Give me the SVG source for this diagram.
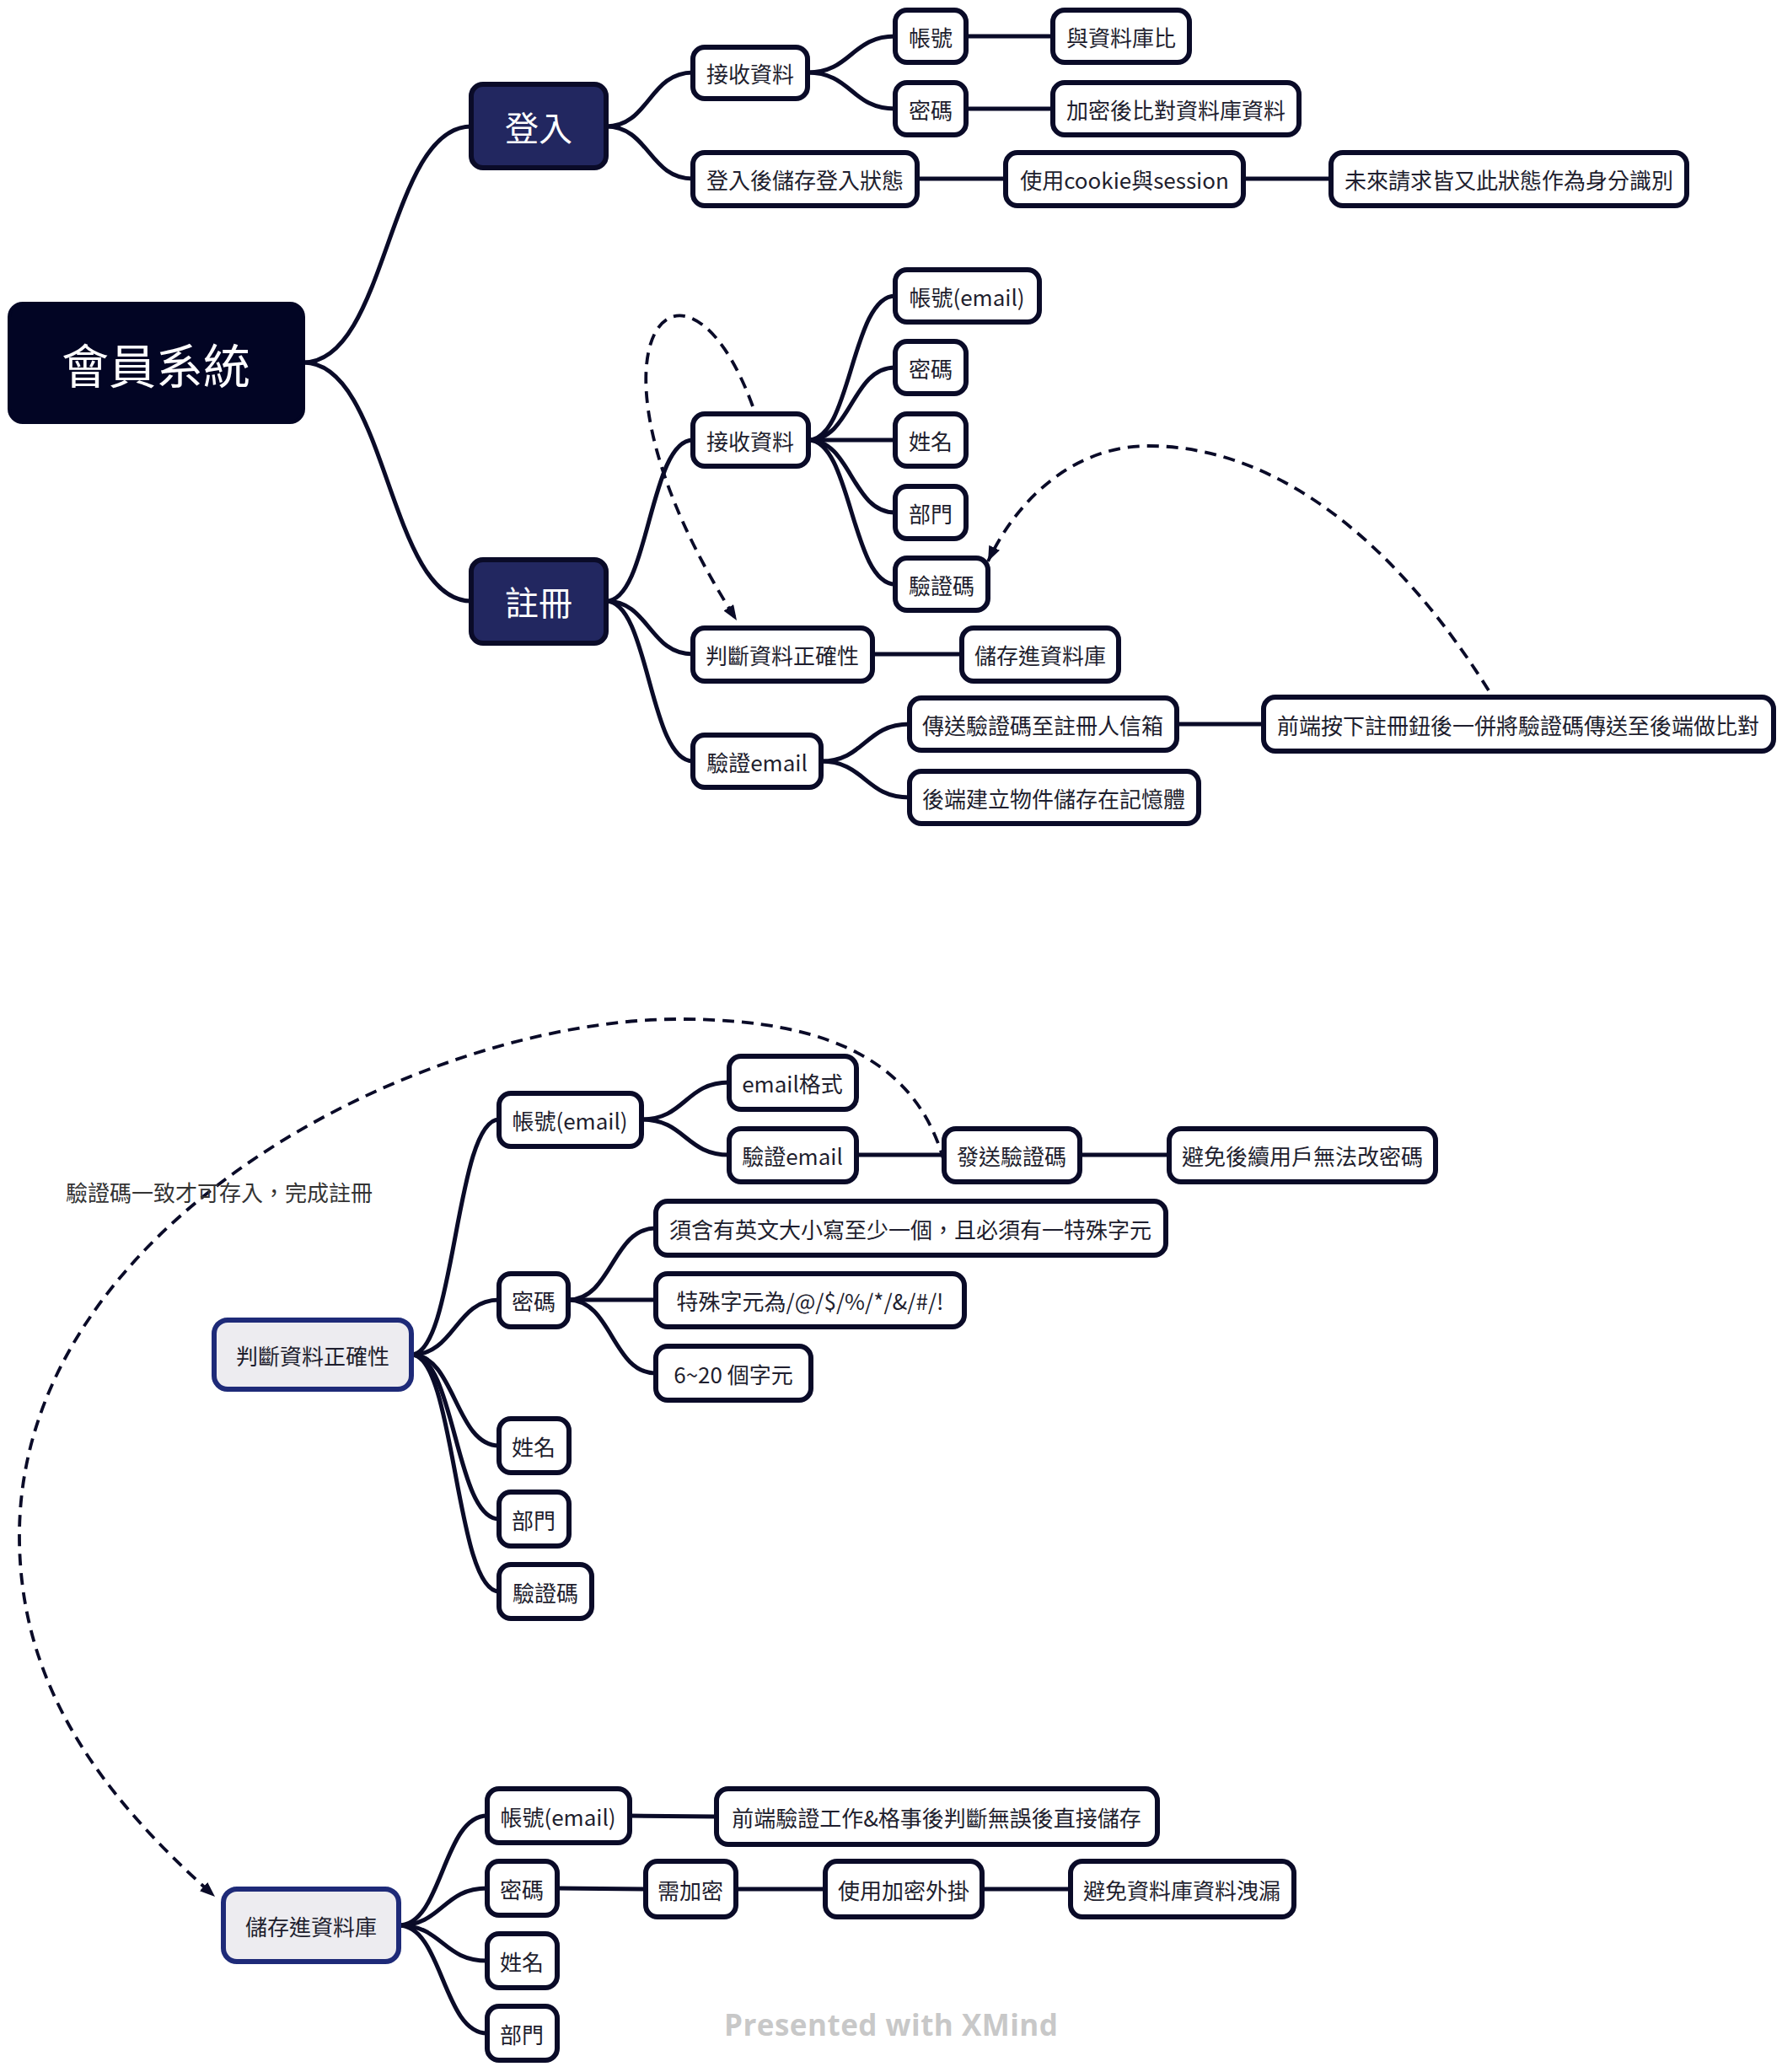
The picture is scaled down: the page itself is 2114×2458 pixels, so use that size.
<svg xmlns="http://www.w3.org/2000/svg" width="2114" height="2458" viewBox="0 0 2114 2458">
<defs>
<style>
.n rect{fill:#ffffff;stroke:#0a0b28;stroke-width:6}
.t{font-family:"Noto Sans CJK TC","Noto Sans",sans-serif;font-size:26px;fill:#1e1e2e;text-anchor:middle;dominant-baseline:central}
.m rect{fill:#222760;stroke:#0a0b28;stroke-width:6}
.m .t{font-size:40px;fill:#ffffff}
.s rect{fill:#edecf0;stroke:#1e2a78;stroke-width:6}
.c{fill:none;stroke:#0a0b28;stroke-width:5;stroke-linecap:round}
.d{fill:none;stroke:#0a0b28;stroke-width:3.8;stroke-dasharray:14 9;marker-end:url(#ah)}
</style>
<marker id="ah" markerUnits="userSpaceOnUse" markerWidth="22" markerHeight="18" refX="18" refY="7" orient="auto">
<path d="M0,0 L18,7 L0,14 z" fill="#0a0b28"/>
</marker>
</defs>
<rect width="2114" height="2458" fill="#ffffff"/>

<g id="connectors">
<path class="c" d="M360,430 C460,430 460,150 559,150"/>
<path class="c" d="M360,430 C460,430 460,713 559,713"/>
<path class="c" d="M719,150 C770,150 770,86 822,86"/>
<path class="c" d="M719,150 C770,150 770,212 822,212"/>
<path class="c" d="M958,86 C1010,86 1010,43 1062,43"/>
<path class="c" d="M958,86 C1010,86 1010,129 1062,129"/>
<path class="c" d="M1146,43 L1249,43"/>
<path class="c" d="M1146,129 L1249,129"/>
<path class="c" d="M1088,212 L1193,212"/>
<path class="c" d="M1475,212 L1579,212"/>
<path class="c" d="M719,713 C770,713 770,522 822,522"/>
<path class="c" d="M719,713 C770,713 770,776 822,776"/>
<path class="c" d="M719,713 C770,713 770,903 822,903"/>
<path class="c" d="M959,522 C1010,522 1010,351 1062,351"/>
<path class="c" d="M959,522 C1010,522 1010,436 1062,436"/>
<path class="c" d="M959,522 L1062,522"/>
<path class="c" d="M959,522 C1010,522 1010,608 1062,608"/>
<path class="c" d="M959,522 C1010,522 1010,693 1062,693"/>
<path class="c" d="M1035,776 L1141,776"/>
<path class="c" d="M974,903 C1026,903 1026,859 1079,859"/>
<path class="c" d="M974,903 C1026,903 1026,946 1079,946"/>
<path class="c" d="M1396,859 L1499,859"/>
<path class="c" d="M488,1607 C540,1607 540,1328 592,1328"/>
<path class="c" d="M488,1607 C540,1607 540,1542 592,1542"/>
<path class="c" d="M488,1607 C540,1607 540,1715 592,1715"/>
<path class="c" d="M488,1607 C540,1607 540,1802 592,1802"/>
<path class="c" d="M488,1607 C540,1607 540,1888 592,1888"/>
<path class="c" d="M761,1328 C813,1328 813,1284 865,1284"/>
<path class="c" d="M761,1328 C813,1328 813,1370 865,1370"/>
<path class="c" d="M1016,1370 L1120,1370"/>
<path class="c" d="M1281,1370 L1387,1370"/>
<path class="c" d="M674,1542 C726,1542 726,1457 778,1457"/>
<path class="c" d="M674,1542 L778,1542"/>
<path class="c" d="M674,1542 C726,1542 726,1629 778,1629"/>
<path class="c" d="M473,2284 C525,2284 525,2154 578,2154"/>
<path class="c" d="M473,2284 C525,2284 525,2240 578,2240"/>
<path class="c" d="M473,2284 C525,2284 525,2326 578,2326"/>
<path class="c" d="M473,2284 C525,2284 525,2412 578,2412"/>
<path class="c" d="M747,2154 L850,2155"/>
<path class="c" d="M661,2240 L766,2241"/>
<path class="c" d="M873,2241 L979,2241"/>
<path class="c" d="M1165,2241 L1270,2241"/>
<path class="d" d="M893,482 C810,255 665,410 874,736"/>
<path class="d" d="M1766,819 C1660,650 1520,529 1362,529 C1280,529 1210,585 1172,666"/>
<path class="d" d="M1120,1378 C1090,1270 1000,1209 806,1209 C500,1209 23,1450 23,1822 C23,2000 120,2130 255,2250"/>
<text class="t" x="78" y="1413" style="text-anchor:start;fill:#333333">驗證碼一致才可存入，完成註冊</text>
</g>

<g id="root"><rect x="11" y="360" width="349" height="141" rx="16" fill="#020524" stroke="#020524" stroke-width="4"/><text class="t" x="185" y="430" style="font-size:56px;fill:#ffffff">會員系統</text></g>
<g id="login" class="m"><rect x="559" y="100" width="160" height="99" rx="14"/><text class="t" x="639" y="150">登入</text></g>
<g id="register" class="m"><rect x="559" y="664" width="160" height="99" rx="14"/><text class="t" x="639" y="713">註冊</text></g>

<g id="l-receive" class="n"><rect x="822" y="56" width="136" height="61" rx="14"/><text class="t" x="890" y="86">接收資料</text></g>
<g id="l-keep" class="n"><rect x="822" y="181" width="266" height="63" rx="14"/><text class="t" x="955" y="212">登入後儲存登入狀態</text></g>
<g id="l-account" class="n"><rect x="1062" y="12" width="84" height="62" rx="14"/><text class="t" x="1104" y="43">帳號</text></g>
<g id="l-compare" class="n"><rect x="1249" y="12" width="162" height="62" rx="14"/><text class="t" x="1330" y="43">與資料庫比</text></g>
<g id="l-password" class="n"><rect x="1062" y="98" width="84" height="62" rx="14"/><text class="t" x="1104" y="129">密碼</text></g>
<g id="l-encrypt" class="n"><rect x="1249" y="98" width="292" height="62" rx="14"/><text class="t" x="1395" y="129">加密後比對資料庫資料</text></g>
<g id="l-cookie" class="n"><rect x="1193" y="181" width="282" height="63" rx="14"/><text class="t" x="1334" y="212">使用cookie與session</text></g>
<g id="l-future" class="n"><rect x="1579" y="181" width="422" height="63" rx="14"/><text class="t" x="1790" y="212">未來請求皆又此狀態作為身分識別</text></g>

<g id="r-receive" class="n"><rect x="822" y="491" width="137" height="62" rx="14"/><text class="t" x="890" y="522">接收資料</text></g>
<g id="r-account" class="n"><rect x="1062" y="320" width="171" height="62" rx="14"/><text class="t" x="1147" y="351">帳號(email)</text></g>
<g id="r-password" class="n"><rect x="1062" y="405" width="84" height="62" rx="14"/><text class="t" x="1104" y="436">密碼</text></g>
<g id="r-name" class="n"><rect x="1062" y="491" width="84" height="62" rx="14"/><text class="t" x="1104" y="522">姓名</text></g>
<g id="r-dept" class="n"><rect x="1062" y="577" width="84" height="62" rx="14"/><text class="t" x="1104" y="608">部門</text></g>
<g id="r-code" class="n"><rect x="1062" y="662" width="110" height="62" rx="14"/><text class="t" x="1117" y="693">驗證碼</text></g>
<g id="r-check" class="n"><rect x="822" y="745" width="213" height="63" rx="14"/><text class="t" x="928" y="776">判斷資料正確性</text></g>
<g id="r-store" class="n"><rect x="1141" y="745" width="186" height="63" rx="14"/><text class="t" x="1234" y="776">儲存進資料庫</text></g>
<g id="r-verify" class="n"><rect x="822" y="872" width="152" height="62" rx="14"/><text class="t" x="898" y="903">驗證email</text></g>
<g id="r-send" class="n"><rect x="1079" y="828" width="317" height="62" rx="14"/><text class="t" x="1237" y="859">傳送驗證碼至註冊人信箱</text></g>
<g id="r-backend" class="n"><rect x="1079" y="915" width="343" height="62" rx="14"/><text class="t" x="1250" y="946">後端建立物件儲存在記憶體</text></g>
<g id="r-front" class="n"><rect x="1499" y="827" width="605" height="64" rx="14"/><text class="t" x="1801" y="859">前端按下註冊鈕後一併將驗證碼傳送至後端做比對</text></g>

<g id="c-root" class="s"><rect x="254" y="1566" width="234" height="82" rx="16"/><text class="t" x="371" y="1607">判斷資料正確性</text></g>
<g id="c-account" class="n"><rect x="592" y="1297" width="169" height="63" rx="14"/><text class="t" x="676" y="1328">帳號(email)</text></g>
<g id="c-format" class="n"><rect x="865" y="1253" width="151" height="63" rx="14"/><text class="t" x="940" y="1284">email格式</text></g>
<g id="c-verify" class="n"><rect x="865" y="1339" width="151" height="63" rx="14"/><text class="t" x="940" y="1370">驗證email</text></g>
<g id="c-sendcode" class="n"><rect x="1120" y="1339" width="161" height="63" rx="14"/><text class="t" x="1200" y="1370">發送驗證碼</text></g>
<g id="c-avoid" class="n"><rect x="1387" y="1339" width="316" height="63" rx="14"/><text class="t" x="1545" y="1370">避免後續用戶無法改密碼</text></g>
<g id="c-password" class="n"><rect x="592" y="1511" width="82" height="63" rx="14"/><text class="t" x="633" y="1542">密碼</text></g>
<g id="c-rule1" class="n"><rect x="778" y="1425" width="605" height="64" rx="14"/><text class="t" x="1080" y="1457">須含有英文大小寫至少一個，且必須有一特殊字元</text></g>
<g id="c-rule2" class="n"><rect x="778" y="1511" width="366" height="63" rx="14"/><text class="t" x="961" y="1542">特殊字元為/@/$/%/*/&amp;/#/!</text></g>
<g id="c-rule3" class="n"><rect x="778" y="1597" width="184" height="64" rx="14"/><text class="t" x="870" y="1629">6~20 個字元</text></g>
<g id="c-name" class="n"><rect x="592" y="1683" width="83" height="64" rx="14"/><text class="t" x="633" y="1715">姓名</text></g>
<g id="c-dept" class="n"><rect x="592" y="1770" width="83" height="64" rx="14"/><text class="t" x="633" y="1802">部門</text></g>
<g id="c-code" class="n"><rect x="592" y="1856" width="110" height="64" rx="14"/><text class="t" x="647" y="1888">驗證碼</text></g>

<g id="s-root" class="s"><rect x="265" y="2241" width="208" height="86" rx="16"/><text class="t" x="369" y="2284">儲存進資料庫</text></g>
<g id="s-account" class="n"><rect x="578" y="2122" width="169" height="64" rx="14"/><text class="t" x="662" y="2154">帳號(email)</text></g>
<g id="s-front" class="n"><rect x="850" y="2122" width="523" height="66" rx="14"/><text class="t" x="1111" y="2155">前端驗證工作&amp;格事後判斷無誤後直接儲存</text></g>
<g id="s-password" class="n"><rect x="578" y="2208" width="83" height="64" rx="14"/><text class="t" x="619" y="2240">密碼</text></g>
<g id="s-need" class="n"><rect x="766" y="2208" width="107" height="66" rx="14"/><text class="t" x="819" y="2241">需加密</text></g>
<g id="s-plugin" class="n"><rect x="979" y="2208" width="186" height="66" rx="14"/><text class="t" x="1072" y="2241">使用加密外掛</text></g>
<g id="s-leak" class="n"><rect x="1270" y="2208" width="265" height="66" rx="14"/><text class="t" x="1402" y="2241">避免資料庫資料洩漏</text></g>
<g id="s-name" class="n"><rect x="578" y="2294" width="83" height="64" rx="14"/><text class="t" x="619" y="2326">姓名</text></g>
<g id="s-dept" class="n"><rect x="578" y="2380" width="83" height="64" rx="14"/><text class="t" x="619" y="2412">部門</text></g>

<text x="1057" y="2415" text-anchor="middle" font-family="'Open Sans', 'Liberation Sans', sans-serif" font-weight="bold" font-size="35" fill="#c8c8c8" textLength="396">Presented with XMind</text>
</svg>
